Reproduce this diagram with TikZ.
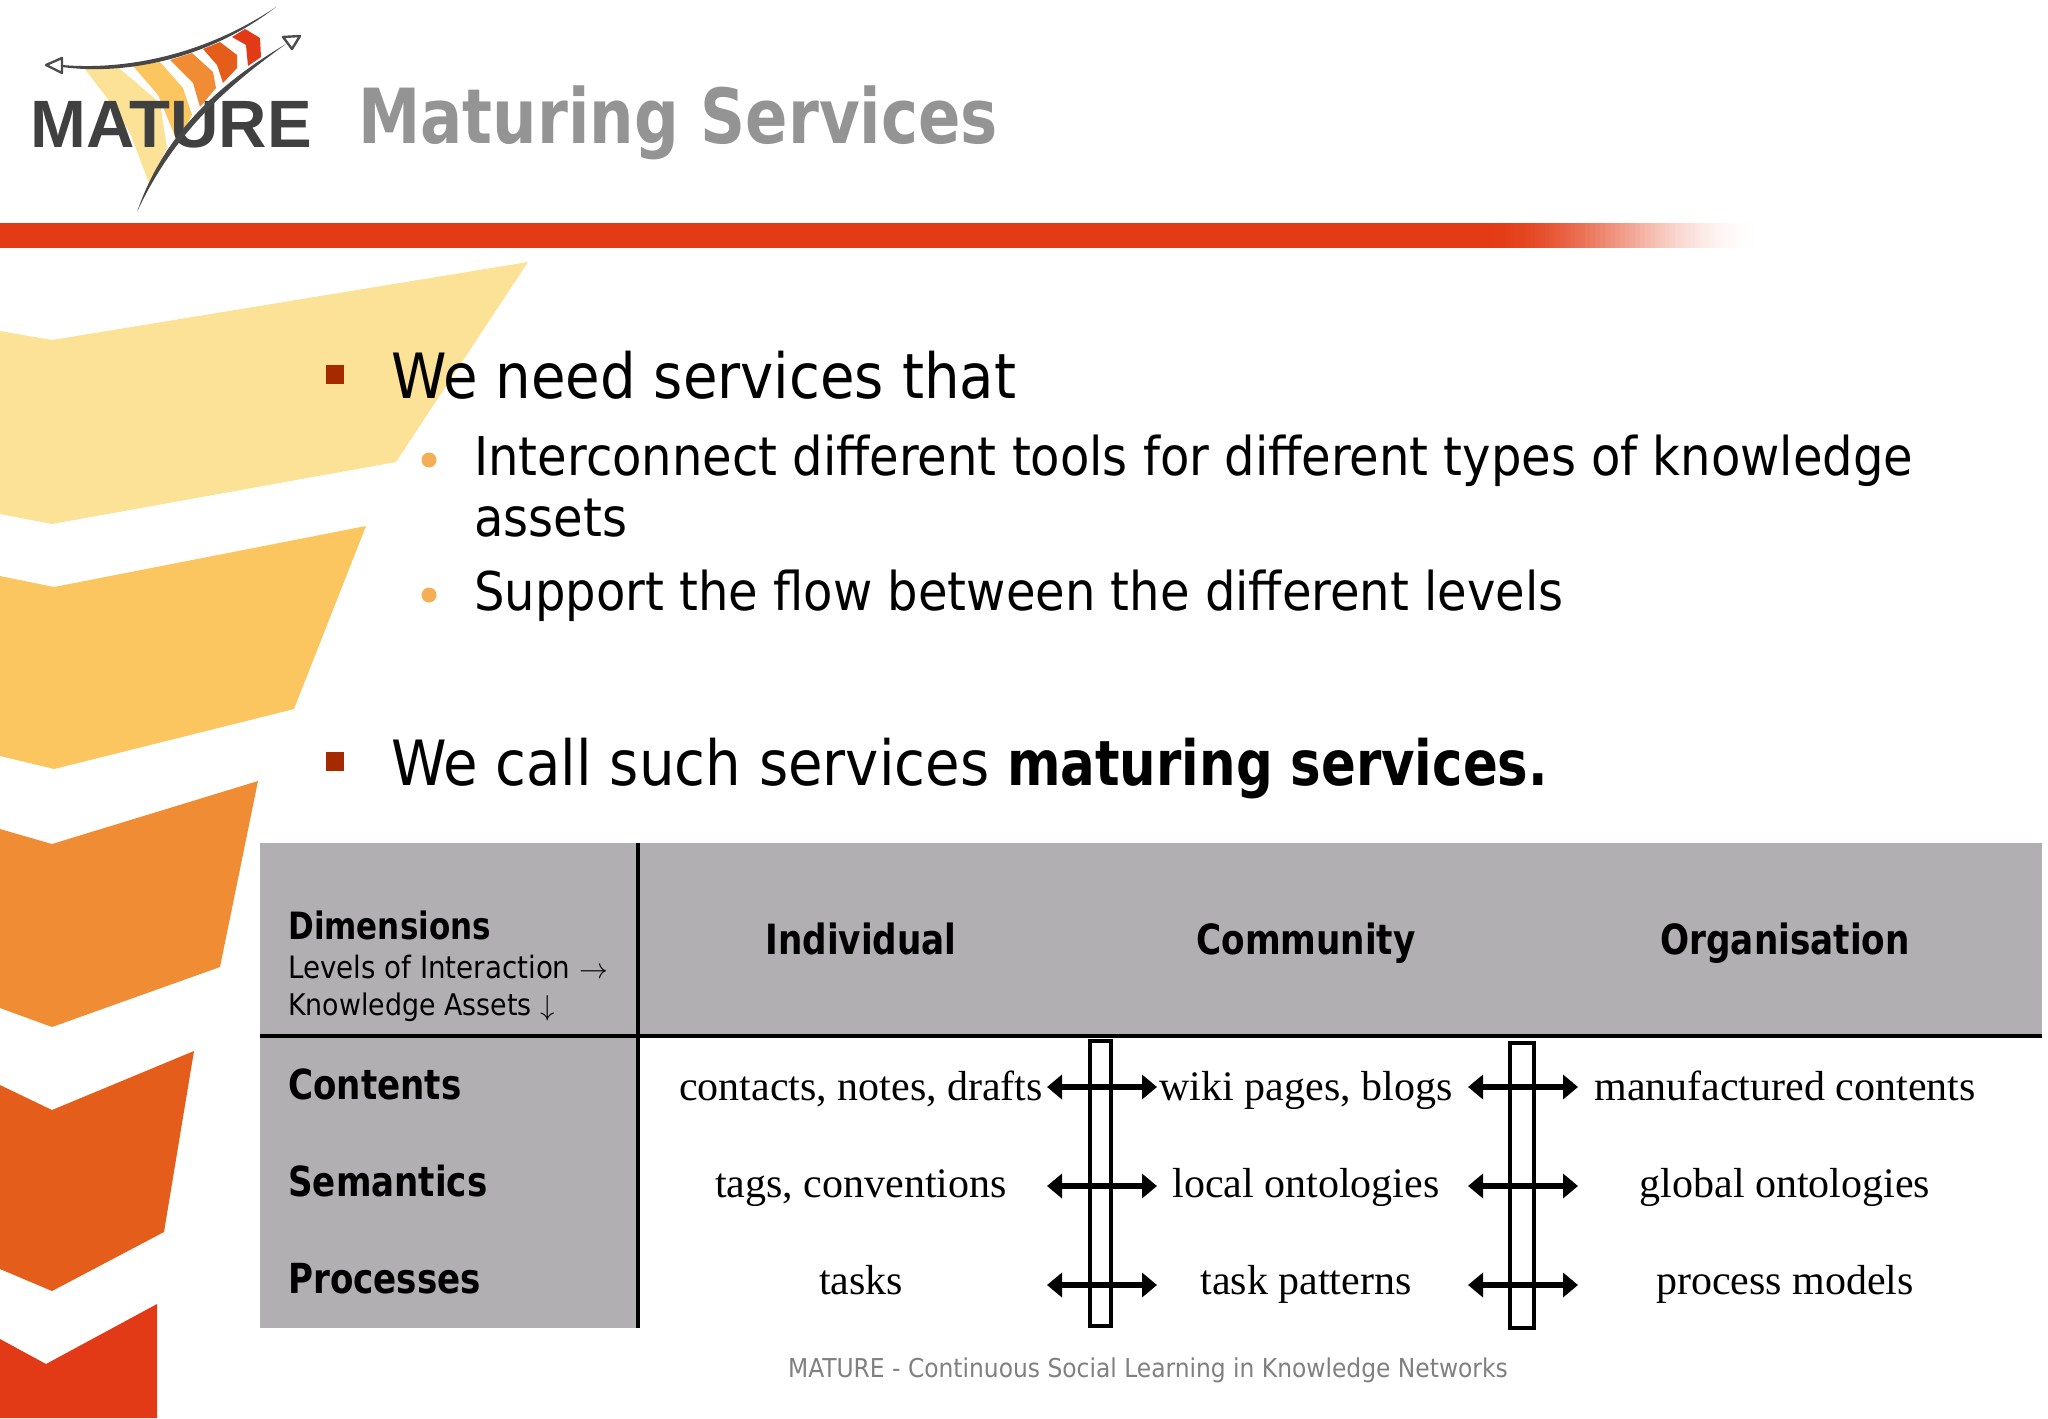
\documentclass[tikz,border=0pt]{standalone}
\usepackage{fontspec}
\usepackage{amsmath}
\setmainfont[BoldFeatures={FakeStretch=0.915}]{DejaVu Sans Condensed}
\newfontfamily\cellfont{Liberation Serif}
\newfontfamily\logofont{Liberation Sans}
\usetikzlibrary{arrows.meta}
\definecolor{tablegray}{HTML}{B1AFB2}
\definecolor{bandred}{HTML}{E33B15}
\definecolor{chevA}{HTML}{FCE296}
\definecolor{chevB}{HTML}{FBC660}
\definecolor{chevC}{HTML}{F08D34}
\definecolor{chevD}{HTML}{E55D1A}
\definecolor{chevE}{HTML}{E23A17}
\definecolor{bullsquare}{HTML}{A52A00}
\definecolor{bulldot}{HTML}{F4AE55}
\tikzset{
  txt/.style={anchor=base west,inner sep=0pt},
  mainitem/.style={txt,font=\fontsize{31.2}{36}\selectfont},
  subitem/.style={txt,font=\fontsize{26.7}{31}\selectfont},
  rowhead/.style={txt,font=\fontsize{20.7}{24}\selectfont\bfseries},
  colhead/.style={anchor=base,inner sep=0pt,font=\fontsize{20.8}{24}\selectfont\bfseries},
  cell/.style={anchor=base,inner sep=0pt,font=\cellfont\fontsize{21}{24}\selectfont},
  bullbox/.style={fill=bullsquare},
  bullround/.style={fill=bulldot},
  barbox/.style={draw=black,line width=1.6pt,fill=none},
  flow/.style={line width=2.6pt,{Triangle[length=7.5pt,width=12pt]}-{Triangle[length=7.5pt,width=12pt]}}
}
\begin{document}
\begin{tikzpicture}[x=0.5pt,y=-0.5pt]
  \useasboundingbox (0,0) rectangle (2048,1418);
  % side chevrons
  \fill[chevA] (0,331) -- (52,340) -- (528,262) -- (396,462) -- (52,524) -- (0,514) -- cycle;
  \fill[chevB] (0,576) -- (54,587) -- (366,526) -- (294,709) -- (54,769) -- (0,756) -- cycle;
  \fill[chevC] (0,829) -- (52,844) -- (258,781) -- (220,967) -- (52,1027) -- (0,1008) -- cycle;
  \fill[chevD] (0,1085) -- (52,1110) -- (194,1051) -- (164,1232) -- (52,1291) -- (0,1269) -- cycle;
  \fill[chevE] (0,1339) -- (46,1364) -- (157,1304) -- (157,1418) -- (0,1418) -- cycle;
  % logo
  \fill[chevA] (84,68) -- (119,68) -- (160,103) -- (167,148) -- (149,183) -- (130,133) -- (107,98) -- cycle;
  \fill[chevB] (133,66) -- (160,62) -- (183,88) -- (192,115) -- (177,141) -- (158,95) -- cycle;
  \fill[chevC] (170,60) -- (192,53) -- (213,72) -- (216,88) -- (200,107) -- (193,83) -- cycle;
  \fill[chevD] (203,49) -- (220,42) -- (237,55) -- (237,68) -- (223,83) -- (217,65) -- cycle;
  \fill[chevE] (232,37) -- (245,29) -- (260,38) -- (261,57) -- (248,66) -- (246,45) -- cycle;
  \node[txt,font=\logofont\bfseries\fontsize{33.5}{33}\selectfont,text=black!75] (logotext) at (30,148) {MATURE};
  \fill[black!72] (62,65) .. controls (120,70) and (200,58) .. (276,7)
    .. controls (205,62) and (120,75) .. (62,67) -- cycle;
  \fill[black!72] (137,212) .. controls (165,130) and (225,80) .. (286,44)
    .. controls (232,83) and (175,130) .. cycle;
  \draw[black!70,line width=1.2pt,line join=round] (46,65) -- (62,58) -- (62,73) -- cycle;
  \draw[black!70,line width=1.2pt,line join=round] (283,37) -- (300,36) -- (292,49) -- cycle;
  \node[txt,font=\fontsize{38}{44}\selectfont\bfseries,text=black!42] (title) at (358,143) {Maturing Services};
  % red band
  \fill[bandred] (0,223) rectangle (1480,248);
  \foreach \fadex in {1480,1485,...,1755} {
    \pgfmathsetmacro\fadepct{50+50*cos(180*((\fadex-1480)/280))}
    \fill[bandred!\fadepct!white] (\fadex,223) rectangle (\fadex+6,248);
  }
  % bullets
  \fill[bullbox] (326,365) rectangle (344,384);
  \fill[bullbox] (326,752) rectangle (344,771);
  \fill[bullround] (429,460) circle (7.5);
  \fill[bullround] (429,595) circle (7.5);
  \node[mainitem] (needs) at (391,398) {We need services that};
  \node[subitem] (subone) at (474,475) {Interconnect different tools for different types of knowledge};
  \node[subitem] (subonemore) at (474,536) {assets};
  \node[subitem] (subtwo) at (474,610) {Support the flow between the different levels};
  \node[mainitem] (call) at (391,785) {We call such services \textbf{maturing services.}};
  % table
  \fill[tablegray] (260,843) rectangle (2042,1035);
  \fill[tablegray] (260,1035) rectangle (637,1328);
  \coordinate (vtop) at (638,843);
  \coordinate (vbot) at (638,1328);
  \coordinate (hleft) at (260,1036);
  \coordinate (hright) at (2042,1036);
  \draw[line width=1.8pt] (vtop) -- (vbot);
  \draw[line width=1.8pt] (hleft) -- (hright);
  \node[txt,font=\fontsize{18.8}{24}\selectfont\bfseries] (dims) at (288,939) {Dimensions};
  \node[txt,font=\fontsize{15.4}{20}\selectfont] (levels) at (288,978) {Levels of Interaction $\rightarrow$};
  \node[txt,font=\fontsize{14.9}{20}\selectfont] (assets) at (288,1015) {Knowledge Assets $\downarrow$};
  \node[colhead] (indiv) at (861,954) {Individual};
  \node[colhead] (comm) at (1306,954) {Community};
  \node[colhead] (org) at (1785,954) {Organisation};
  \node[rowhead] (conts) at (288,1099) {Contents};
  \node[rowhead] (sems) at (288,1196) {Semantics};
  \node[rowhead] (procs) at (288,1293) {Processes};
  \node[cell] (c11) at (861,1100) {contacts, notes, drafts};
  \node[cell] (c12) at (1306,1100) {wiki pages, blogs};
  \node[cell] (c13) at (1785,1100) {manufactured contents};
  \node[cell] (c21) at (861,1197) {tags, conventions};
  \node[cell] (c22) at (1306,1197) {local ontologies};
  \node[cell] (c23) at (1785,1197) {global ontologies};
  \node[cell] (c31) at (861,1294) {tasks};
  \node[cell] (c32) at (1306,1294) {task patterns};
  \node[cell] (c33) at (1785,1294) {process models};
  % bars and arrows
  \draw[barbox] (1090,1041) rectangle (1111,1326);
  \draw[barbox] (1510,1043) rectangle (1534,1328);
  \foreach \rowy in {1087,1186,1285} {
    \coordinate (la) at (1047,\rowy);
    \coordinate (lb) at (1157,\rowy);
    \coordinate (ra) at (1468,\rowy);
    \coordinate (rb) at (1578,\rowy);
    \draw[flow] (la) -- (lb);
    \draw[flow] (ra) -- (rb);
  }
  \node[anchor=base,inner sep=0pt,font=\fontsize{13}{18}\selectfont,text=black!50] (foot) at (1148,1377)
    {MATURE - Continuous Social Learning in Knowledge Networks};
\end{tikzpicture}
\end{document}
